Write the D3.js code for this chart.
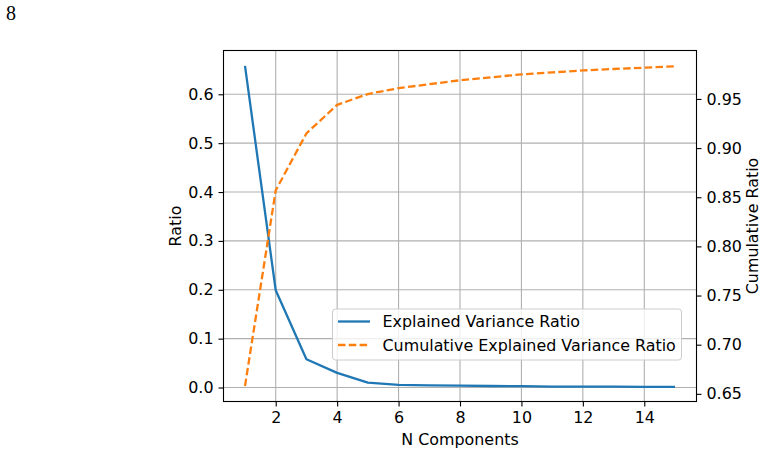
<!DOCTYPE html>
<html><head><meta charset="utf-8">
<script src="https://cdn.jsdelivr.net/npm/d3@7"></script>
<style>body{margin:0;background:#fff}svg{display:block}</style>
</head><body>
<script>
const components = [1,2,3,4,5,6,7,8,9,10,11,12,13,14,15];
const ratio = [0.658,0.199,0.058,0.030,0.010,0.0055,0.0044,0.0040,0.0031,0.0027,0.0020,0.0019,0.0017,0.0014,0.0014];
const cumulative = [0.658,0.857,0.915,0.944,0.955,0.961,0.965,0.969,0.972,0.975,0.977,0.979,0.9805,0.9818,0.9832];
const xTicks = [2,4,6,8,10,12,14];
const leftTicks = [0.0,0.1,0.2,0.3,0.4,0.5,0.6];
const rightTicks = [0.65,0.70,0.75,0.80,0.85,0.90,0.95];
const xDomain = [0.3,15.7];
const leftDomain = [-0.0286,0.6896];
const rightDomain = [0.6422,0.9993];
const seriesNames = ["Explained Variance Ratio","Cumulative Explained Variance Ratio"];
const colors = ["#1f77b4","#ff7f0e"];

const W=765,H=455;
const L=223.5,R=696.5,T=50.5,B=401.5;
const FONT="'DejaVu Sans', sans-serif", FS=15.9;
const svg=d3.select("body").append("svg").attr("width",W).attr("height",H);

svg.append("text").attr("x",6).attr("y",20).attr("font-family","'Liberation Serif', serif")
  .attr("font-size",20).text("8");

const x=d3.scaleLinear().domain(xDomain).range([L,R]);
const yl=d3.scaleLinear().domain(leftDomain).range([B,T]);
const yr=d3.scaleLinear().domain(rightDomain).range([B,T]);

// grid
const g=svg.append("g");
g.selectAll(".gx").data(xTicks).join("line").attr("x1",d=>x(d)).attr("x2",d=>x(d))
  .attr("y1",T).attr("y2",B).attr("stroke","#b0b0b0").attr("stroke-width",1.1);
g.selectAll(".gy").data(leftTicks).join("line").attr("y1",d=>yl(d)).attr("y2",d=>yl(d))
  .attr("x1",L).attr("x2",R).attr("stroke","#b0b0b0").attr("stroke-width",1.1);

// lines
const lineL=d3.line().x((d,i)=>x(components[i])).y(d=>yl(d));
const lineR=d3.line().x((d,i)=>x(components[i])).y(d=>yr(d));
svg.append("path").attr("d",lineL(ratio)).attr("fill","none").attr("stroke",colors[0])
  .attr("stroke-width",2.3).attr("stroke-linejoin","round").attr("stroke-linecap","butt");
svg.append("path").attr("d",lineR(cumulative)).attr("fill","none").attr("stroke",colors[1])
  .attr("stroke-width",2.3).attr("stroke-dasharray","7.5,3.3").attr("stroke-linecap","butt");

// axes
function styleAxis(sel){
  sel.selectAll("text").attr("font-family",FONT).attr("font-size",FS).attr("fill","#000");
  sel.selectAll(".tick line").attr("stroke","#000").attr("stroke-width",1.1);
  sel.select(".domain").remove();
}
svg.append("g").attr("transform",`translate(0,${B})`)
  .call(d3.axisBottom(x).tickValues(xTicks).tickSize(5).tickPadding(5).tickFormat(d3.format("d")))
  .call(styleAxis);
svg.append("g").attr("transform",`translate(${L},0)`)
  .call(d3.axisLeft(yl).tickValues(leftTicks).tickSize(5).tickPadding(5).tickFormat(d3.format(".1f")))
  .call(styleAxis);
svg.append("g").attr("transform",`translate(${R},0)`)
  .call(d3.axisRight(yr).tickValues(rightTicks).tickSize(5).tickPadding(5).tickFormat(d3.format(".2f")))
  .call(styleAxis);

// spines
svg.append("rect").attr("x",L).attr("y",T).attr("width",R-L).attr("height",B-T)
  .attr("fill","none").attr("stroke","#000").attr("stroke-width",1.1);

// axis labels
svg.append("text").attr("x",(L+R)/2).attr("y",445).attr("text-anchor","middle")
  .attr("font-family",FONT).attr("font-size",FS).text("N Components");
svg.append("text").attr("transform",`translate(181,${(T+B)/2}) rotate(-90)`).attr("text-anchor","middle")
  .attr("font-family",FONT).attr("font-size",FS).text("Ratio");
svg.append("text").attr("transform",`translate(758,${(T+B)/2}) rotate(-90)`).attr("text-anchor","middle")
  .attr("font-family",FONT).attr("font-size",FS).text("Cumulative Ratio");

// legend
const lg=svg.append("g");
lg.append("rect").attr("x",332.5).attr("y",309).attr("width",349).attr("height",51).attr("rx",3)
  .attr("fill","#fff").attr("fill-opacity",0.8).attr("stroke","#cccccc").attr("stroke-width",1);
const rows=[321.5,345];
seriesNames.forEach((n,i)=>{
  lg.append("line").attr("x1",338).attr("x2",370).attr("y1",rows[i]).attr("y2",rows[i])
    .attr("stroke",colors[i]).attr("stroke-width",2.3)
    .attr("stroke-dasharray",i===1?"7.5,3.3":null);
  lg.append("text").attr("x",382.5).attr("y",rows[i]+5.6).attr("font-family",FONT)
    .attr("font-size",FS).text(n);
});
</script>
</body></html>
